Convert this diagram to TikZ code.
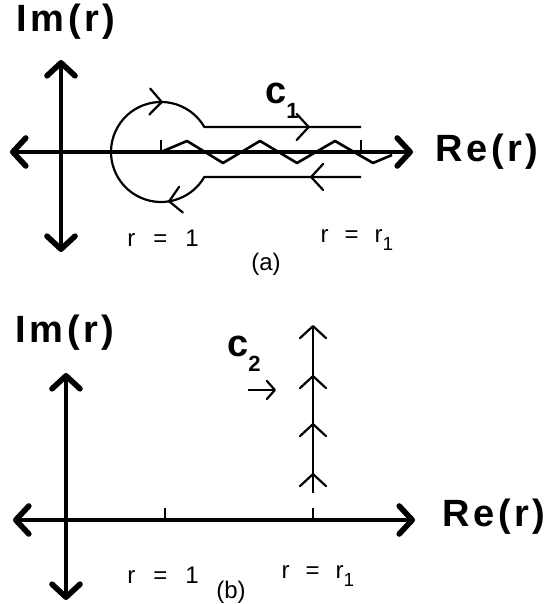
\documentclass[tikz,border=0pt]{standalone}
\usepackage{fontspec}
\setmainfont{Liberation Sans}
\newfontfamily\wideface[LetterSpace=9]{Liberation Sans}
\usetikzlibrary{arrows.meta, decorations.markings}

\begin{document}
\begin{tikzpicture}[
        x=0.5pt, y=0.5pt,
        axhead/.tip={Straight Barb[length=6.5pt, width=14pt, line width=2.8pt, round]},
        chev/.tip={Straight Barb[length=6pt, width=13pt, round]},
        smallchev/.tip={Straight Barb[length=4pt, width=9pt, round]},
        axis/.style={line width=1.7pt, axhead-axhead},
        tick/.style={line width=1pt},
        contour/.style={line width=1.1pt, line join=round},
        big/.style={font=\wideface\bfseries\fontsize{19}{22}\selectfont},
        small/.style={font=\fontsize{12}{14}\selectfont}
    ]
        \useasboundingbox (0,0) rectangle (547,604);

        % (a)
        \draw[axis] (10,452) -- (413,452);
        \draw[axis] (61,544) -- (61,352);
        \draw[tick] (161,452) -- (161,464);
        \draw[tick] (361,452) -- (361,464);
        \draw[contour, line width=1.3pt] (161,452) -- (187,463) -- (223,441) -- (260,463)
            -- (297,441) -- (335,463) -- (373,441) -- (392,449);
        \draw[contour, postaction={decorate}, decoration={markings,
                mark=at position 25.5pt with {\arrow{chev}},
                mark=at position 101pt with {\arrow{chev}},
                mark=at position 184pt with {\arrow{chev}},
                mark=at position 262pt with {\arrow{chev}}}]
            (361,427) -- (204.3,427) arc[start angle=-30, end angle=-330, radius=50]
            -- (361,477);

        \node[big] (imA) at (66,582) {Im(r)};
        \node[big] (reA) at (487,452) {Re(r)};
        \node[big] (cA) at (282,503) {c\raisebox{-0.4em}{\fontsize{11}{12}\selectfont 1}};
        \node[small] (oneA) at (163,366) {r\hspace{9pt}=\hspace{9pt}1};
        \node[small] (rA) at (357,364) {r\hspace{8pt}=\hspace{8pt}r\raisebox{-0.35em}{\fontsize{9.5}{11}\selectfont 1}};
        \node[small] (capA) at (266,340) {(a)};

        % (b)
        \draw[axis] (13,84) -- (415,84);
        \draw[axis] (66,231) -- (66,4);
        \draw[tick] (165,84) -- (165,96);
        \draw[tick] (313,84) -- (313,96);
        \draw[contour, -chev, postaction={decorate}, decoration={markings,
                mark=at position 10pt with {\arrow{chev}},
                mark=at position 35pt with {\arrow{chev}},
                mark=at position 59pt with {\arrow{chev}}}]
            (313,111) -- (313,279);
        \draw[contour, -smallchev] (248,214) -- (276,214);

        \node[big] (imB) at (65,271) {Im(r)};
        \node[big] (reB) at (494,87) {Re(r)};
        \node[big] (cB) at (244,250) {c\raisebox{-0.4em}{\fontsize{11}{12}\selectfont 2}};
        \node[small] (oneB) at (163,29) {r\hspace{9pt}=\hspace{9pt}1};
        \node[small] (rB) at (318,28) {r\hspace{8pt}=\hspace{8pt}r\raisebox{-0.35em}{\fontsize{9.5}{11}\selectfont 1}};
        \node[small] (capB) at (231,12) {(b)};
    \end{tikzpicture}
\end{document}
